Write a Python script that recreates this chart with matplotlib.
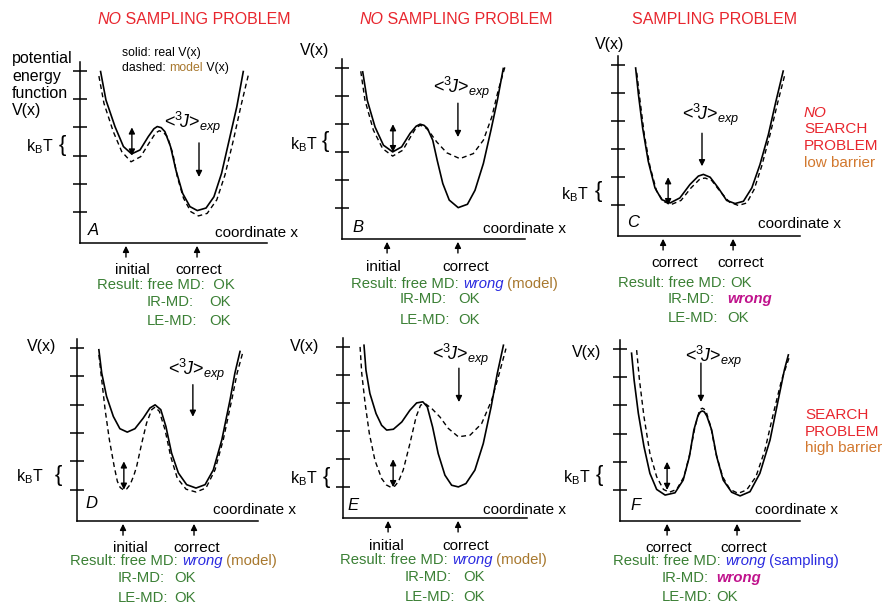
import matplotlib
matplotlib.use('Agg')
import matplotlib.pyplot as plt

plt.rcParams['font.family'] = ['Liberation Sans', 'DejaVu Sans']
plt.rcParams['mathtext.fontset'] = 'custom'
plt.rcParams['mathtext.rm'] = 'Liberation Sans'
plt.rcParams['mathtext.it'] = 'Liberation Sans:italic'

# curves: x in tick spacings from the V axis, V in kBT (= tick) units
a_real_x = [0.73, 0.92, 1.24, 1.54, 1.83, 2.13, 2.42, 2.62, 2.74, 2.88, 3.01, 3.21, 3.40, 3.64, 3.90, 4.16, 4.47, 4.75, 5.02, 5.29, 5.56, 5.79]
a_real_v = [4.98, 3.97, 3.03, 2.32, 2.06, 2.20, 2.67, 2.95, 3.03, 2.99, 2.85, 2.32, 1.49, 0.66, 0.19, 0.05, 0.14, 0.54, 1.37, 2.55, 3.73, 4.98]
a_model_x = [0.67, 0.85, 1.18, 1.48, 1.81, 2.15, 2.46, 2.68, 2.81, 2.95, 3.10, 3.29, 3.45, 3.67, 3.93, 4.20, 4.51, 4.85, 5.14, 5.44, 5.70, 5.97]
a_model_v = [4.82, 3.85, 2.85, 2.14, 1.78, 1.96, 2.46, 2.80, 2.88, 2.83, 2.67, 2.08, 1.25, 0.49, 0.01, -0.14, -0.05, 0.43, 1.31, 2.55, 3.73, 4.86]

b_real_x = [0.74, 0.90, 1.18, 1.48, 1.81, 2.13, 2.43, 2.65, 2.79, 2.93, 3.05, 3.24, 3.40, 3.60, 3.83, 4.15, 4.48, 4.75, 5.05, 5.32, 5.55, 5.76]
b_real_v = [4.87, 3.86, 2.90, 2.25, 2.01, 2.19, 2.67, 2.93, 3.00, 2.96, 2.85, 2.43, 1.71, 0.88, 0.29, 0.02, 0.14, 0.64, 1.60, 2.79, 3.86, 4.99]
b_model_x = [0.67, 0.82, 1.12, 1.45, 1.81, 2.17, 2.45, 2.65, 2.79, 2.93, 3.08, 3.38, 3.74, 4.21, 4.69, 5.05, 5.35, 5.58, 5.82]
b_model_v = [4.89, 3.86, 2.79, 2.13, 1.86, 2.07, 2.55, 2.88, 2.96, 2.92, 2.79, 2.37, 1.98, 1.77, 1.95, 2.43, 3.26, 4.21, 5.05]

c_real_x = [0.63, 0.73, 0.88, 1.08, 1.32, 1.56, 1.86, 2.21, 2.57, 2.87, 3.05, 3.29, 3.58, 3.88, 4.18, 4.48, 4.78, 5.07, 5.37, 5.64, 5.90]
c_real_v = [4.90, 3.95, 2.76, 1.57, 0.62, 0.20, 0.08, 0.26, 0.74, 1.04, 1.10, 1.00, 0.62, 0.17, 0.06, 0.14, 0.62, 1.45, 2.52, 3.71, 4.79]
c_model_x = [0.67, 0.79, 0.94, 1.14, 1.38, 1.62, 1.89, 2.25, 2.61, 2.93, 3.11, 3.35, 3.64, 3.98, 4.30, 4.60, 4.86, 5.13, 5.43, 5.70, 5.96]
c_model_v = [4.73, 3.71, 2.52, 1.39, 0.50, 0.14, 0.02, 0.17, 0.62, 0.94, 0.97, 0.88, 0.50, 0.11, -0.01, 0.08, 0.56, 1.39, 2.52, 3.65, 4.67]

d_real_x = [0.77, 0.87, 1.04, 1.28, 1.51, 1.77, 2.04, 2.33, 2.57, 2.75, 2.95, 3.13, 3.33, 3.57, 3.86, 4.19, 4.51, 4.80, 5.10, 5.39, 5.56, 5.74]
d_real_v = [4.93, 4.11, 3.29, 2.58, 2.15, 2.03, 2.15, 2.52, 2.88, 2.99, 2.82, 2.23, 1.29, 0.59, 0.18, 0.06, 0.18, 0.70, 1.76, 3.17, 4.11, 4.87]
d_model_x = [0.77, 0.87, 0.99, 1.14, 1.31, 1.42, 1.52, 1.63, 1.75, 1.87, 2.00, 2.10, 2.28, 2.45, 2.63, 2.75, 2.90, 3.10, 3.30, 3.53, 3.84, 4.19, 4.54, 4.86, 5.15, 5.45, 5.64, 5.83]
d_model_v = [4.75, 3.87, 2.82, 1.76, 0.82, 0.30, 0.08, 0.00, 0.03, 0.18, 0.50, 0.82, 1.64, 2.35, 2.82, 2.91, 2.76, 2.11, 1.17, 0.41, 0.02, -0.08, 0.06, 0.70, 1.76, 3.17, 4.11, 4.81]

e_real_x = [0.75, 0.82, 0.96, 1.18, 1.38, 1.56, 1.80, 2.10, 2.39, 2.63, 2.85, 3.01, 3.20, 3.40, 3.64, 3.88, 4.12, 4.39, 4.71, 5.01, 5.29, 5.51, 5.73]
e_real_v = [5.07, 4.18, 3.35, 2.63, 2.21, 2.04, 2.07, 2.33, 2.75, 3.01, 3.05, 2.87, 2.15, 1.20, 0.43, 0.07, 0.01, 0.13, 0.61, 1.56, 2.87, 4.06, 5.07]
e_model_x = [0.61, 0.67, 0.79, 0.94, 1.14, 1.38, 1.55, 1.70, 1.85, 1.98, 2.15, 2.39, 2.61, 2.77, 2.93, 3.17, 3.46, 3.76, 4.12, 4.54, 4.95, 5.31, 5.58, 5.82]
e_model_v = [5.01, 4.06, 2.99, 1.92, 0.96, 0.31, 0.08, 0.00, 0.04, 0.20, 0.61, 1.56, 2.51, 2.93, 2.99, 2.81, 2.51, 2.10, 1.80, 1.86, 2.27, 3.11, 4.06, 4.95]

f_real_x = [0.41, 0.50, 0.65, 0.85, 1.06, 1.30, 1.60, 1.95, 2.24, 2.46, 2.62, 2.76, 2.85, 2.92, 2.99, 3.08, 3.25, 3.43, 3.66, 3.96, 4.26, 4.61, 4.96, 5.32, 5.61, 5.83, 5.97]
f_real_v = [4.85, 3.90, 2.72, 1.54, 0.59, 0.02, -0.18, -0.10, 0.35, 1.18, 2.13, 2.62, 2.77, 2.80, 2.77, 2.62, 2.13, 1.18, 0.35, -0.08, -0.21, -0.06, 0.59, 1.77, 3.19, 4.26, 4.79]
f_model_x = [0.59, 0.69, 0.85, 1.06, 1.30, 1.54, 1.75, 2.01, 2.27, 2.48, 2.66, 2.80, 2.87, 2.92, 2.98, 3.06, 3.22, 3.40, 3.64, 3.90, 4.19, 4.49, 4.82, 5.14, 5.44, 5.73, 6.03]
f_model_v = [4.96, 3.90, 2.60, 1.30, 0.47, 0.02, -0.08, 0.02, 0.47, 1.30, 2.24, 2.76, 2.87, 2.90, 2.87, 2.76, 2.24, 1.30, 0.47, 0.02, -0.12, 0.00, 0.47, 1.42, 2.72, 3.90, 4.79]

tick_levels = [0, 1, 2, 3, 4, 5]

RED = '#e8262e'
GREEN = '#3b8035'
BLUE = '#2a2ae0'
BROWN = '#a8782e'
MAGENTA = '#c0128c'
ORANGE = '#d2782e'

W, H = 885, 604
fig = plt.figure(figsize=(W / 100, H / 100), dpi=100)
rend = fig.canvas.get_renderer()


def txt(x, y, s, **kw):
    kw.setdefault('fontsize', 11)
    kw.setdefault('va', 'center')
    kw.setdefault('color', 'black')
    return fig.text(x / W, 1 - y / H, s, **kw)


def line(x, y, parts, size=10.7):
    # parts: (text, colour, extra kwargs, earliest x or None), drawn one after another
    for s, c, kw, xmin in parts:
        if xmin is not None:
            x = max(x, xmin)
        t = txt(x, y, s, color=c, fontsize=size, **kw)
        x += t.get_window_extent(rend).width


def arrow(ax, x0, y0, x1, y1, style='-|>'):
    ax.annotate('', xy=(x1, y1), xytext=(x0, y0), xycoords='data', annotation_clip=False,
                arrowprops=dict(arrowstyle=style, color='black', lw=1, mutation_scale=9,
                                shrinkA=0, shrinkB=0))


def panel(x0, ybot, x1, s, real, model, lo, dx, jx, jtop, jbot, up_xs):
    ax = fig.add_axes([x0 / W, 1 - ybot / H, (x1 - x0) / W, 6.42 * s / H])
    ax.set_xlim(0, (x1 - x0) / s)
    ax.set_ylim(-1.1, 5.32)
    ax.patch.set_visible(False)
    for sp in ['top', 'right']:
        ax.spines[sp].set_visible(False)
    for sp in ['left', 'bottom']:
        ax.spines[sp].set_linewidth(1.1)
    ax.set_xticks([])
    ax.set_yticks(tick_levels)
    ax.tick_params(axis='y', direction='inout', length=10, width=1.1, labelleft=False)
    ax.plot(real[0], real[1], color='black', lw=1.2, solid_joinstyle='round', clip_on=False)
    ax.plot(model[0], model[1], color='black', lw=1.0, dashes=(3.5, 2.5), clip_on=False)
    arrow(ax, dx, lo, dx, lo + 1, style='<|-|>')
    arrow(ax, jx, jtop, jx, jbot)
    for ux in up_xs:
        arrow(ax, ux, -1.6, ux, -1.2)
    return ax


panel(80, 243, 267, 28.2, (a_real_x, a_real_v), (a_model_x, a_model_v), 2, 1.84, 4.22, 2.45, 1.24, [1.63, 4.15])
panel(342, 239, 525, 28.0, (b_real_x, b_real_v), (b_model_x, b_model_v), 2, 1.82, 4.14, 3.75, 2.54, [1.61, 4.14])
panel(618, 236, 800, 28.0, (c_real_x, c_real_v), (c_model_x, c_model_v), 0, 1.79, 3.00, 2.57, 1.39, [1.61, 4.11])
panel(77, 521, 258, 28.4, (d_real_x, d_real_v), (d_model_x, d_model_v), 0, 1.65, 4.08, 3.70, 2.57, [1.62, 4.12])
panel(343, 518, 527, 28.0, (e_real_x, e_real_v), (e_model_x, e_model_v), 0, 1.79, 4.14, 4.25, 3.04, [1.61, 4.11])
panel(620, 521, 800, 28.2, (f_real_x, f_real_v), (f_model_x, f_model_v), 0, 1.67, 2.87, 4.50, 3.12, [1.67, 4.15])

# column titles
it = dict(style='italic')
bi = dict(style='italic', fontweight='bold')
line(97, 19, [('NO', RED, it, None), (' SAMPLING PROBLEM', RED, {}, None)], size=11.5)
line(359, 19, [('NO', RED, it, None), (' SAMPLING PROBLEM', RED, {}, None)], size=11.5)
txt(632, 19, 'SAMPLING PROBLEM', color=RED, fontsize=11.5)

# y axis labels
for y, s in zip([58, 76, 93, 111], ['potential', 'energy', 'function', 'V(x)']):
    txt(12, y, s, fontsize=11.5)
for x, y in [(300, 50), (595, 44), (27, 347), (290, 347), (572, 352)]:
    txt(x, y, 'V(x)', fontsize=11.5)

# legend
txt(122, 53, 'solid: real V(x)', fontsize=8.8)
line(122, 68, [('dashed: ', 'black', {}, None), ('model', BROWN, {}, None), (' V(x)', 'black', {}, None)], size=8.8)

# kBT braces
for xr, yt, xb, yb in [(53, 147, 62, 146), (317, 145, 325, 142), (588, 195, 598, 191),
                       (43, 477, 58, 475), (317, 479, 326, 477), (590, 478, 599, 476)]:
    txt(xr, yt, r'k$_\mathregular{B}$T', ha='right', fontsize=11.5)
    txt(xb, yb, '{', ha='center', fontsize=16, fontweight='light')

# <3J>exp labels
for x, y in [(193, 123), (462, 88), (711, 115), (197, 370), (461, 355), (714, 357)]:
    txt(x, y, r'<$^{3}\!\mathit{J}$>$_{\mathit{exp}}$', ha='center', fontsize=13)

# panel letters and x axis titles
for x, y, s in [(88, 230, 'A'), (352, 228, 'B'), (627, 223, 'C'),
                (85, 503, 'D'), (347, 505, 'E'), (630, 505, 'F')]:
    txt(x, y, s, style='italic', fontsize=12)
for x, y in [(215, 233), (483, 229), (758, 224), (213, 510), (483, 510), (755, 510)]:
    txt(x, y, 'coordinate x')

# labels under the x axes
for x, y, s in [(132, 270, 'initial'), (199, 270, 'correct'),
                (383, 267, 'initial'), (466, 267, 'correct'),
                (675, 263, 'correct'), (741, 263, 'correct'),
                (130, 548, 'initial'), (197, 548, 'correct'),
                (386, 546, 'initial'), (466, 546, 'correct'),
                (669, 548, 'correct'), (744, 548, 'correct')]:
    txt(x, y, s, ha='center')

# results
G = GREEN
line(97, 285, [('Result: free MD:', G, {}, None), ('  OK', G, {}, None)])
line(147, 302, [('IR-MD:', G, {}, None), ('OK', G, {}, 209)])
line(147, 321, [('LE-MD:', G, {}, None), ('OK', G, {}, 209)])
line(351, 284, [('Result: free MD: ', G, {}, None), ('wrong', BLUE, it, None), (' (model)', BROWN, {}, None)])
line(400, 299, [('IR-MD:', G, {}, None), ('OK', G, {}, 458)])
line(400, 320, [('LE-MD:', G, {}, None), ('OK', G, {}, 458)])
line(618, 283, [('Result: free MD: ', G, {}, None), ('OK', G, {}, None)])
line(668, 299, [('IR-MD:', G, {}, None), ('wrong', MAGENTA, bi, 727)])
line(668, 318, [('LE-MD:', G, {}, None), ('OK', G, {}, 727)])
line(70, 561, [('Result: free MD: ', G, {}, None), ('wrong', BLUE, it, None), (' (model)', BROWN, {}, None)])
line(118, 578, [('IR-MD:', G, {}, None), ('OK', G, {}, 174)])
line(118, 598, [('LE-MD:', G, {}, None), ('OK', G, {}, 174)])
line(340, 560, [('Result: free MD: ', G, {}, None), ('wrong', BLUE, it, None), (' (model)', BROWN, {}, None)])
line(405, 577, [('IR-MD:', G, {}, None), ('OK', G, {}, 463)])
line(405, 597, [('LE-MD:', G, {}, None), ('OK', G, {}, 463)])
line(613, 561, [('Result: free MD: ', G, {}, None), ('wrong', BLUE, it, None), (' (sampling)', BLUE, {}, None)])
line(662, 578, [('IR-MD:', G, {}, None), ('wrong', MAGENTA, bi, 716)])
line(662, 597, [('LE-MD:', G, {}, None), ('OK', G, {}, 716)])

# right side notes
txt(804, 113, 'NO', color=RED, style='italic', fontsize=11)
txt(804, 129, 'SEARCH', color=RED, fontsize=11)
txt(804, 146, 'PROBLEM', color=RED, fontsize=11)
txt(804, 163, 'low barrier', color=ORANGE, fontsize=11)
txt(805, 415, 'SEARCH', color=RED, fontsize=11)
txt(805, 432, 'PROBLEM', color=RED, fontsize=11)
txt(805, 448, 'high barrier', color=ORANGE, fontsize=11)

fig.savefig('out.png', dpi=100)
